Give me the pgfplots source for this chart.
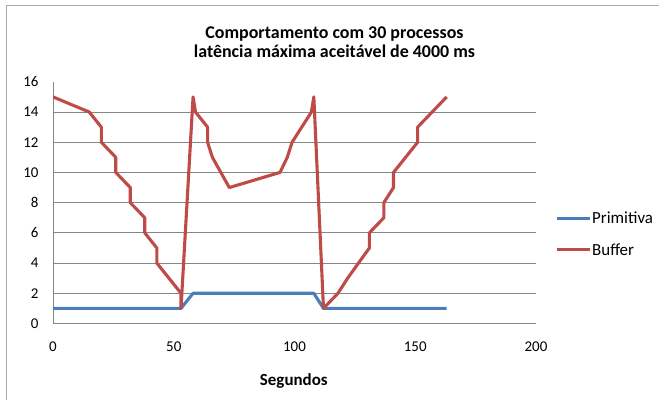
\documentclass[border=0pt]{standalone}
\usepackage{fontspec}
\setmainfont{Carlito}
\usepackage{pgfplots}
\pgfplotsset{compat=1.18}
\definecolor{primblue}{HTML}{4A7EBB}
\definecolor{bufred}{HTML}{BE4B48}
\definecolor{gridgray}{HTML}{868686}
\begin{document}
\begin{tikzpicture}[x=1bp,y=1bp]
\useasboundingbox (0,0) rectangle (659,400);
% chart area border
\draw[gridgray!70, line width=0.8bp] (6,0) -- (6,395) -- (659,395);
\begin{axis}[
    at={(53bp,76.5bp)}, anchor=south west,
    scale only axis, width=483bp, height=241.7bp,
    xmin=0, xmax=200, ymin=0, ymax=16,
    xtick={0,50,...,200}, ytick={0,2,...,14},
    extra y ticks={16}, extra y tick style={grid=none},
    ymajorgrids, grid style={gridgray, line width=0.75bp},
    axis x line*=bottom, axis y line*=left,
    axis line style={gridgray, line width=0.75bp},
    major tick length=0pt,
    tick label style={font=\fontsize{15}{18}\selectfont},
    /pgf/number format/assume math mode=true,
    yticklabel style={xshift=-11bp},
    xticklabel style={yshift=-15bp},
    legend style={draw=none, fill=none, at={(1.039,0.369)}, anchor=west,
        inner sep=0pt, row sep=18bp, font=\fontsize{17}{20}\selectfont,
        nodes={inner xsep=1bp, inner ysep=0pt}},
    legend cell align=left,
    legend image code/.code={\draw[#1] (0bp,0bp) -- (33bp,0bp);},
    every axis plot/.append style={line width=3.1bp, line join=round},
]
\addplot[primblue] coordinates {
    (0,1) (53,1) (58,2) (108,2) (112,1) (163,1)
};
\addplot[bufred] coordinates {
    (0,15) (15,14) (20,13) (20,12) (26,11) (26,10) (32,9) (32,8)
    (38,7) (38,6) (43,5) (43,4) (53,2) (53,1) (58,15) (59,14)
    (64,13) (64,12) (66,11) (73,9) (94,10) (97,11) (99,12) (107,14)
    (108,15) (112,1) (118,2) (122,3) (131,5) (131,6) (137,7) (137,8)
    (141,9) (141,10) (151,12) (151,13) (163,15)
};
\legend{Primitiva, Buffer}
\end{axis}
\node[anchor=base, font=\bfseries\fontsize{18}{22}\selectfont] at (334.5,361.7) {Comportamento com 30 processos};
\node[anchor=base, font=\bfseries\fontsize{18}{22}\selectfont] at (334.5,342.7) {latência máxima aceitável de 4000 ms};
\node[anchor=base, font=\bfseries\fontsize{17}{20}\selectfont] at (293.8,15) {Segundos};
\end{tikzpicture}
\end{document}
